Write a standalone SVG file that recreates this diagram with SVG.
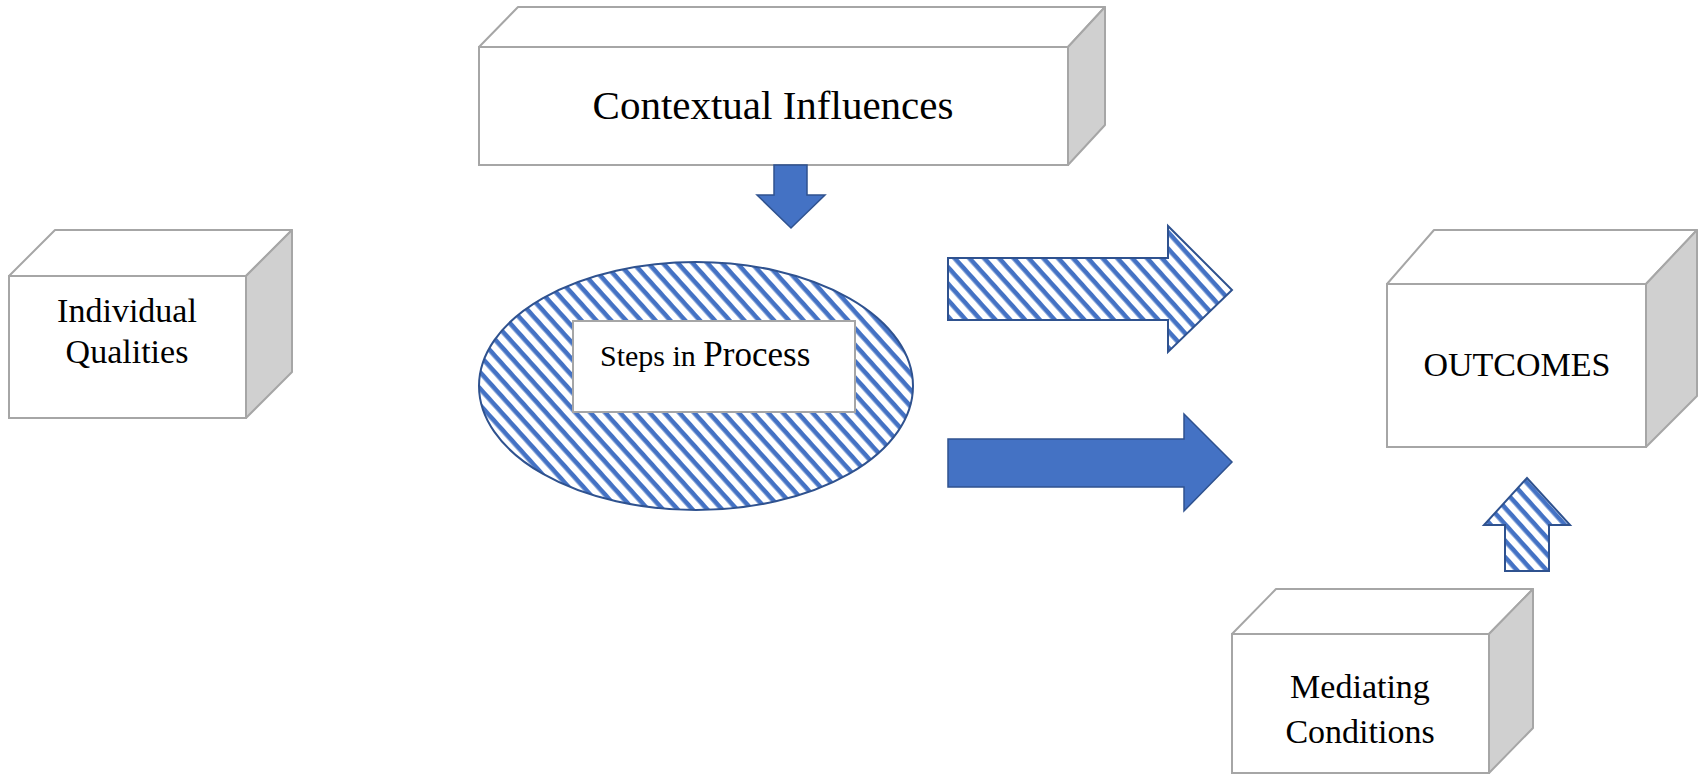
<svg xmlns="http://www.w3.org/2000/svg" width="1703" height="776" viewBox="0 0 1703 776">
  <style>
    .front { fill: #ffffff; stroke: #a6a6a6; stroke-width: 2; }
    .top { fill: #ffffff; stroke: #a6a6a6; stroke-width: 2; stroke-linejoin: round; }
    .side { fill: #d0d0d0; stroke: #a6a6a6; stroke-width: 2; stroke-linejoin: round; }
    .lbl { font-family: "Liberation Serif", "Times New Roman", serif; fill: #000000; }
    .solid { fill: #4472c4; stroke: #2f528f; stroke-width: 1.5; }
    .hatched { stroke: #2f528f; stroke-width: 2; }
  </style>
  <defs>
    <pattern id="hatch" patternUnits="userSpaceOnUse" width="11" height="11" patternTransform="rotate(48)">
      <rect width="11" height="11" fill="#ffffff"/>
      <rect width="11" height="4.6" fill="#4472c4"/>
    </pattern>
  </defs>

  <g id="contextual-influences">
    <polygon class="top" points="479,47 518,7 1105,7 1068,47"/>
    <polygon class="side" points="1068,47 1105,7 1105,125 1068,165"/>
    <rect class="front" x="479" y="47" width="589" height="118"/>
    <text class="lbl" x="773" y="119" font-size="41" text-anchor="middle">Contextual Influences</text>
  </g>

  <g id="individual-qualities">
    <polygon class="top" points="9,276 55,230 292,230 246,276"/>
    <polygon class="side" points="246,276 292,230 292,372 246,418"/>
    <rect class="front" x="9" y="276" width="237" height="142"/>
    <text class="lbl" x="127" y="322" font-size="34" text-anchor="middle">Individual</text>
    <text class="lbl" x="127" y="363" font-size="34" text-anchor="middle">Qualities</text>
  </g>

  <g id="steps-in-process">
    <ellipse cx="696" cy="386" rx="217" ry="124" fill="url(#hatch)" class="hatched"/>
    <rect class="front" x="573" y="321" width="282" height="91"/>
    <text class="lbl" x="600" y="366"><tspan font-size="30">Steps in </tspan><tspan font-size="35">Process</tspan></text>
  </g>

  <g id="outcomes">
    <polygon class="top" points="1387,284 1434,230 1697,230 1646,284"/>
    <polygon class="side" points="1646,284 1697,230 1697,396 1646,447"/>
    <rect class="front" x="1387" y="284" width="259" height="163"/>
    <text class="lbl" x="1517" y="376" font-size="34" text-anchor="middle">OUTCOMES</text>
  </g>

  <g id="mediating-conditions">
    <polygon class="top" points="1232,634 1276,589 1533,589 1489,634"/>
    <polygon class="side" points="1489,634 1533,589 1533,728 1489,773"/>
    <rect class="front" x="1232" y="634" width="257" height="139"/>
    <text class="lbl" x="1360" y="698" font-size="34" text-anchor="middle">Mediating</text>
    <text class="lbl" x="1360" y="743" font-size="34" text-anchor="middle">Conditions</text>
  </g>

  <g id="connectors">
    <polygon id="arrow-context-down" class="solid" points="774,165 807,165 807,195 825,195 791,228 757,195 774,195"/>
    <polygon id="arrow-hatched-right" class="hatched" fill="url(#hatch)" points="948,258 1168,258 1168,226 1232,290 1168,352 1168,320 948,320"/>
    <polygon id="arrow-solid-right" class="solid" points="948,439 1184,439 1184,414 1232,462 1184,511 1184,487 948,487"/>
    <polygon id="arrow-hatched-up" class="hatched" fill="url(#hatch)" points="1505,571 1505,525 1484,525 1527,478 1570,525 1549,525 1549,571"/>
  </g>
</svg>
